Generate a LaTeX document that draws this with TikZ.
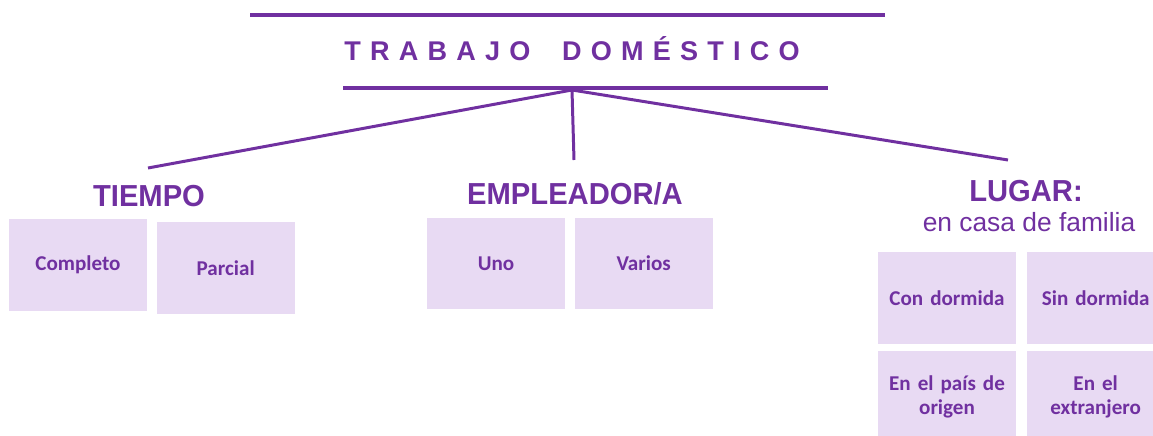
\documentclass[tikz,border=0pt]{standalone}
\usepackage{fontspec}
\setmainfont{Liberation Sans}
\newfontfamily\cajafont{Carlito}
\newfontfamily\titulofont[LetterSpace=34]{Liberation Sans}
\newfontfamily\encabezadofont[FakeStretch=0.96]{Liberation Sans}
\usepackage{tikz}
\usetikzlibrary{positioning}
\usepackage{xcolor}
\definecolor{morado}{HTML}{7030A0}
\definecolor{lila}{HTML}{E8DAF3}

\begin{document}
\begin{tikzpicture}[
    x=0.02cm, y=-0.02cm,
    node distance=0.18cm,
    caja/.style={rectangle, fill=lila, text=morado, minimum width=2.76cm, minimum height=1.84cm, text width=2.5cm, align=center, font=\cajafont\bfseries\fontsize{12}{13.6}\selectfont},
    encabezado/.style={text=morado, font=\encabezadofont\bfseries\fontsize{17.3}{20}\selectfont},
    linea/.style={draw=morado, line width=2pt}
]
\useasboundingbox (0,0) rectangle (1153,436);

% Title between two rules
\draw[linea] (250,15) -- (885,15);
\node[text=morado, font=\titulofont\bfseries\fontsize{15.4}{18}\selectfont] (titulo) at (572,49) {TRABAJO\hspace{0.3cm} DOMÉSTICO};
\draw[linea] (343,88) -- (828,88);

% Branches
\coordinate (raiz) at (572,90);
\coordinate (fin-tiempo) at (148,168);
\coordinate (fin-empleador) at (574,160);
\coordinate (fin-lugar) at (1008,160);
\draw[linea, line width=1.7pt] (raiz) -- (fin-tiempo);
\draw[linea, line width=1.7pt] (raiz) -- (fin-empleador);
\draw[linea, line width=1.7pt] (raiz) -- (fin-lugar);

% Headings
\node[encabezado] (tiempo) at (149,196) {TIEMPO};
\node[encabezado] (empleador) at (575,194) {EMPLEADOR/A};
\node[encabezado] (lugar) at (1026,191) {LUGAR:};
\node[text=morado, font=\fontsize{15}{18}\selectfont] (casa) at (1029,222) {en casa de familia};

% Tiempo
\node[caja] (completo) at (78,265) {Completo};
\node[caja, right=of completo, yshift=-0.06cm] (parcial) {Parcial};

% Empleador/a
\node[caja, minimum height=1.82cm] (uno) at (496,263.5) {Uno};
\node[caja, minimum height=1.82cm, right=of uno] (varios) {Varios};

% Lugar
\node[caja] (con) at (947,298) {Con dormida};
\node[caja, right=0.2cm of con] (sin) {Sin dormida};
\node[caja, below=0.12cm of con] (origen) {En el país de\\origen};
\node[caja, below=0.12cm of sin] (extranjero) {En el\\extranjero};

\end{tikzpicture}
\end{document}
